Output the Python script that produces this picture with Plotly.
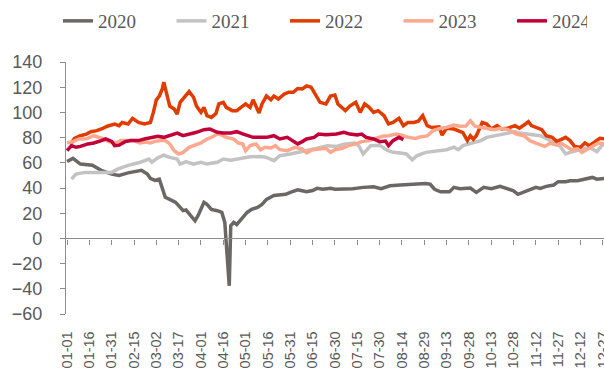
import plotly.graph_objects as go

# Day-of-year (0 = 01-01) and values
days_2020 = [0, 4, 9, 17, 23, 30, 35, 41, 50, 54, 56, 59, 62, 64, 66, 69, 73, 76, 78, 80, 83, 86, 88, 92, 94, 97, 101, 104, 106,
             109, 110, 112, 114, 117, 119, 121, 124, 128, 131, 134, 139, 143, 147, 150, 155, 158, 161, 165, 168, 172, 177, 180,
             186, 192, 199, 206, 211, 217, 224, 230, 235, 241, 244, 247, 251, 257, 260, 264, 271, 275, 280, 285, 291, 296, 300,
             303, 308, 310, 315, 318, 322, 327, 330, 335, 338, 343, 347, 353, 356, 361]
vals_2020 = [61, 63.5, 59, 58, 54, 51, 50, 52, 54, 51, 47.6, 46, 47, 39, 32.6, 31, 28.6, 24.6, 22, 22.5, 18, 14, 18, 28.6, 27, 23,
             22, 20.6, 12.7, -37.6, 10, 12.7, 11, 15, 18, 20.6, 23, 24.6, 27, 31, 34, 34.4, 35, 36.5, 38.6, 37.8, 37, 38, 39.7,
             39, 39.7, 39, 39, 39.5, 40.5, 41, 39.5, 41.8, 42.4, 43, 43, 43.5, 43, 39, 37, 37, 40.5, 39.5, 40, 36.5, 40.5, 39.5,
             41.3, 39, 37.8, 35, 37, 38, 40.5, 39.7, 41.3, 42.4, 45, 45, 45.8, 45.8, 47, 48.4, 47, 47.6]

days_2021 = [3, 6, 12, 18, 25, 30, 34, 41, 48, 52, 55, 57, 61, 65, 69, 74, 76, 80, 85, 90, 94, 101, 105, 110, 114, 120, 123,
             130, 134, 139, 143, 150, 156, 161, 168, 175, 181, 186, 193, 196, 199, 204, 210, 215, 219, 224, 228, 232, 235, 241,
             244, 251, 255, 260, 263, 266, 273, 278, 282, 289, 296, 301, 304, 311, 318, 322, 327, 331, 335, 338, 343, 347, 351,
             356, 361]
vals_2021 = [47, 51, 52.4, 52.4, 53, 52.4, 55, 58, 60, 61.7, 63, 60.5, 64, 66, 64.3, 63, 59, 61, 59, 60.4, 59, 60.4, 63, 62, 63,
             64.3, 64.8, 65, 64.3, 61.7, 65.6, 67, 68.3, 69.6, 71.5, 73.6, 73, 74.7, 75.7, 73.6, 67, 73.6, 74, 70, 68.3, 67.8,
             67, 62.4, 65.6, 68.3, 68.8, 69.6, 70.4, 72.4, 70.4, 73.6, 75.7, 77.6, 80.2, 82, 83.6, 84.7, 83.6, 82.8, 81.5, 79.4,
             75.7, 73.6, 67, 68.3, 69.6, 71, 72.4, 68.8, 76]

days_2022 = [3, 5, 9, 13, 16, 20, 24, 27, 32, 35, 37, 41, 44, 48, 52, 56, 58, 60, 62, 64, 65, 67, 69, 72, 74, 76, 79, 82, 85,
             87, 90, 92, 94, 97, 100, 102, 105, 107, 111, 114, 118, 120, 123, 125, 129, 131, 134, 137, 139, 142, 146, 149, 152,
             155, 158, 161, 164, 167, 170, 174, 177, 180, 182, 187, 190, 194, 197, 200, 203, 206, 209, 213, 216, 219, 223, 226,
             229, 233, 236, 239, 242, 245, 250, 252, 255, 260, 263, 266, 269, 271, 273, 275, 279, 282, 285, 289, 292, 296, 301,
             304, 308, 310, 312, 316, 319, 322, 326, 329, 335, 338, 341, 345, 348, 351, 355, 358, 361]
vals_2022 = [75.7, 79.4, 81.5, 82.8, 84.7, 85.5, 87.4, 89, 90.8, 89.5, 92, 90.8, 95.3, 92, 90.8, 92, 100, 110, 113, 118.6, 124,
             113, 105, 102.7, 98.7, 108, 112, 116.5, 112, 105, 100, 104, 97.4, 96, 99, 106.7, 108, 104, 101.4, 101.4, 105,
             106.7, 104, 110, 99.5, 106.7, 113, 110, 113, 110.6, 114.6, 116, 116, 119, 118.6, 121, 120, 114.6, 108, 106.7, 113,
             113.8, 106.7, 101.4, 105, 108, 100, 106.7, 104, 100, 101.4, 97.4, 90.8, 92, 95.3, 89.5, 92, 92, 93, 97.4, 89.5, 88,
             88.5, 82, 87.4, 86.8, 85.5, 84, 77.6, 81.5, 78.7, 81.5, 92, 90.8, 86.8, 89.5, 86.8, 87.4, 89.5, 87.4, 90.8, 92.6,
             89.5, 88, 86.3, 81.5, 80.2, 76.8, 80.2, 77.6, 73, 72.4, 75.7, 73.6, 76.8, 79.4, 79]

days_2023 = [0, 4, 8, 13, 18, 22, 25, 28, 33, 36, 41, 45, 49, 53, 56, 59, 63, 66, 69, 72, 75, 78, 82, 85, 90, 94, 97, 101, 104,
             107, 112, 115, 118, 120, 123, 127, 130, 133, 137, 140, 143, 148, 153, 158, 161, 165, 169, 174, 177, 180, 185, 189,
             194, 198, 203, 207, 212, 216, 221, 225, 229, 234, 237, 242, 246, 251, 255, 260, 264, 268, 271, 274, 278, 282, 287,
             291, 296, 300, 302, 307, 311, 315, 318, 321, 325, 329, 332, 336, 339, 343, 346, 350, 354, 357, 361]
vals_2023 = [75.7, 76.8, 78.9, 79, 81.5, 80.2, 78.9, 76.8, 75.7, 77.6, 77.6, 77.6, 75.7, 76.5, 75.7, 77, 77.6, 77.6, 75, 69.6,
             67, 68.3, 72.3, 73.6, 75.7, 78.9, 80.2, 82.8, 82, 80.2, 78.9, 75.7, 75, 69.6, 73.6, 75, 70.4, 72.3, 71.7, 73.6,
             70.4, 69.6, 72.3, 71, 67.8, 70.4, 70.8, 71.5, 68.3, 70.4, 71.5, 73.6, 75, 76.8, 77.6, 79.4, 81, 81.5, 82.8, 82,
             80.2, 79.4, 80.5, 81.3, 85.5, 87.4, 88.1, 90, 89, 89.2, 93.4, 89, 88, 87.4, 86.3, 87.4, 86.5, 84.3, 82.8, 81.5,
             77.6, 75.7, 74, 73, 75.7, 74, 75.5, 72.3, 70.4, 71, 68.3, 71, 73.6, 75.7, 75]

days_2024 = [0, 3, 6, 9, 14, 18, 23, 26, 30, 32, 35, 39, 43, 48, 52, 56, 61, 65, 69, 74, 78, 83, 87, 92, 96, 101, 105, 110, 114,
             118, 121, 125, 130, 134, 139, 143, 148, 152, 155, 158, 161, 166, 169, 174, 177, 181, 186, 190, 195, 198, 201, 206,
             210, 214, 216, 219, 223, 226]
vals_2024 = [69.6, 73.6, 72.3, 73, 75, 75.7, 77.6, 78.9, 77, 73.6, 74, 76.8, 77.6, 77.6, 78.9, 79.8, 81, 80.2, 81.5, 83.6, 81.5,
             82.8, 84.2, 86.3, 86.8, 84.2, 83.6, 83.6, 84.7, 83, 81.5, 80.2, 80.2, 80.2, 81.5, 78.9, 80.2, 77.6, 75, 76.8, 78.9,
             80.2, 82.8, 82.2, 82.4, 82.8, 84.2, 82.8, 82, 82.8, 80.2, 78.9, 76.8, 77.3, 73.6, 77.6, 80.2, 78.4]

series_names = ["2020", "2021", "2022", "2023", "2024"]
series_colors = ["#6b6767", "#c3c3c3", "#e03c00", "#ffa88e", "#c1003a"]

tick_days = [0, 15, 30, 45, 60, 75, 90, 105, 120, 135, 150, 165, 180, 195, 210, 225, 240, 255, 270, 285, 300, 315, 330,
             345, 360]
tick_labels = ["01-01", "01-16", "01-31", "02-15", "03-02", "03-17", "04-01", "04-16", "05-01", "05-16", "05-31", "06-15",
               "06-30", "07-15", "07-30", "08-14", "08-29", "09-13", "09-28", "10-13", "10-28", "11-12", "11-27", "12-12",
               "12-27"]
y_ticks = [-60, -40, -20, 0, 20, 40, 60, 80, 100, 120, 140]

all_days = [days_2020, days_2021, days_2022, days_2023, days_2024]
all_vals = [vals_2020, vals_2021, vals_2022, vals_2023, vals_2024]

fig = go.Figure()
for i, (name, color, d, v) in enumerate(zip(series_names, series_colors, all_days, all_vals)):
    fig.add_trace(go.Scatter(x=d, y=v, mode="lines", name=name,
                             legendwidth=(30 if i == len(series_names) - 1 else None),
                             line=dict(color=color, width=3.5)))

axis_color = "#8c8c8c"
label_color = "#595959"

fig.update_layout(
    width=604, height=370,
    margin=dict(l=66, r=0, t=62, b=56, autoexpand=False),
    paper_bgcolor="white", plot_bgcolor="white",
    showlegend=True,
    legend=dict(orientation="h", xref="container", yref="container",
                x=58 / 604, xanchor="left", y=1 - 21 / 370, yanchor="middle",
                entrywidth=68.5, entrywidthmode="pixels",
                font=dict(family="Liberation Serif, Times New Roman, serif", size=19, color=label_color),
                bgcolor="rgba(0,0,0,0)", borderwidth=0),
    xaxis=dict(type="linear", range=[-0.7, 360.8], tickmode="array", tickvals=tick_days, ticktext=tick_labels,
               tickangle=-90, anchor="free", position=0.3, showline=True, linecolor=axis_color, linewidth=1.3,
               ticks="outside", ticklen=5, tickwidth=1.3, tickcolor=axis_color, showgrid=False, zeroline=False,
               ticklabelstandoff=81, ticklabeloverflow="allow", automargin=False,
               tickfont=dict(family="Liberation Sans, Arial, sans-serif", size=14.5, color=label_color)),
    yaxis=dict(range=[-60, 140], tickmode="array", tickvals=y_ticks, showline=True, linecolor=axis_color,
               linewidth=1.3, ticks="outside", ticklen=5, tickwidth=1.3, tickcolor=axis_color, showgrid=False,
               zeroline=False, ticklabelstandoff=14, automargin=False,
               tickfont=dict(family="Liberation Sans, Arial, sans-serif", size=18, color=label_color)),
)

fig.write_html("out.html", config={"displayModeBar": False},
               post_script="document.body.style.margin='0';")
